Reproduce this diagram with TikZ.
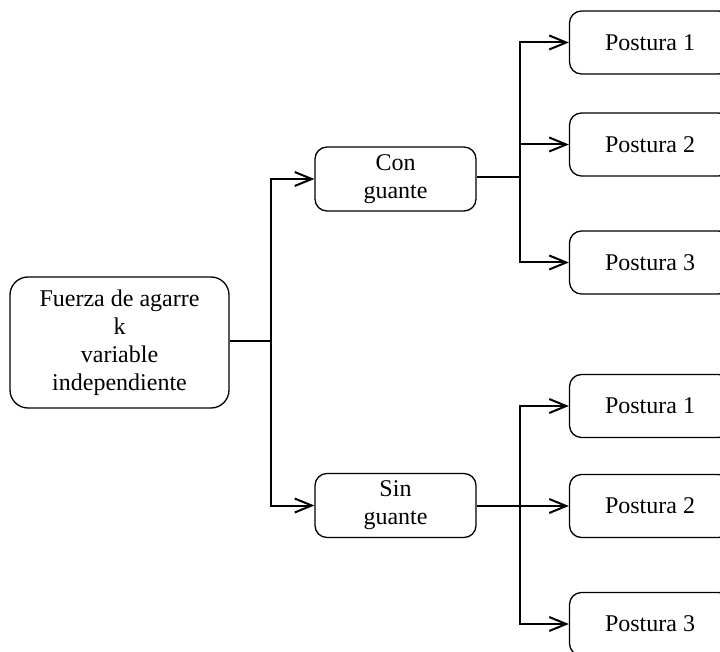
\documentclass[tikz,border=0pt]{standalone}
\usepackage{fontspec}
\setmainfont{Liberation Serif}
\usetikzlibrary{arrows.meta}

\begin{document}
\begin{tikzpicture}[
  x=1pt, y=-1pt,
  font=\fontsize{24}{28}\selectfont,
  box/.style={draw, line width=1.3pt, rounded corners=12pt, align=center, minimum width=161pt, minimum height=63pt},
  link/.style={line width=2pt},
  arr/.style={link, -{Straight Barb[length=17pt,width=14pt]}}
]
\useasboundingbox (0,0) rectangle (720,652);
\clip (0,0) rectangle (720,652);
\node[box, minimum width=219pt, minimum height=131pt, rounded corners=18pt] (main) at (119.5,342.5) {Fuerza de agarre\\k\\variable\\independiente};
\node[box, minimum height=64pt] (con) at (395.5,179) {Con\\guante};
\node[box, minimum height=64pt] (sin) at (395.5,505.5) {Sin\\guante};
\node[box] (p1) at (650,42.5) {Postura 1};
\node[box] (p2) at (650,144.5) {Postura 2};
\node[box] (p3) at (650,262.5) {Postura 3};
\node[box] (q1) at (650,406) {Postura 1};
\node[box] (q2) at (650,506) {Postura 2};
\node[box] (q3) at (650,624) {Postura 3};
\coordinate (split) at (271,341);
\coordinate (rt) at (520,177);
\coordinate (rb) at (520,506);
\draw[link] (main.east |- split) -- (split);
\draw[arr] (split) |- (con);
\draw[arr] (split) |- (sin);
\draw[link] (con.east |- rt) -- (rt);
\draw[arr] (rt) |- (p1);
\draw[arr] (rt) |- (p2);
\draw[arr] (rt) |- (p3);
\draw[link] (sin.east |- rb) -- (rb);
\draw[arr] (rb) |- (q1);
\draw[arr] (rb) |- (q2);
\draw[arr] (rb) |- (q3);
\end{tikzpicture}
\end{document}
